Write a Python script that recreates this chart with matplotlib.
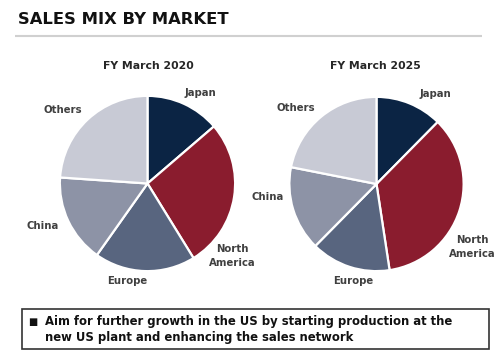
import matplotlib
matplotlib.use("Agg")
import matplotlib.pyplot as plt
from matplotlib.patches import Rectangle

# ---- data ----
markets = ["Japan", "North\nAmerica", "Europe", "China", "Others"]
share_2020 = [13.7, 27.5, 18.6, 16.3, 23.9]
share_2025 = [12.4, 35.2, 14.8, 15.7, 21.9]
titles = ["FY March 2020", "FY March 2025"]
colors = ["#0b2444", "#8a1c2e", "#58657f", "#8d93a6", "#c8cad5"]
main_title = "SALES MIX BY MARKET"
note_lines = ["Aim for further growth in the US by starting production at the",
              "new US plant and enhancing the sales network"]

W, H = 500, 354
fig = plt.figure(figsize=(W / 100, H / 100), dpi=100)
fig.patch.set_facecolor("white")

ov = fig.add_axes([0, 0, 1, 1])
ov.set_xlim(0, W)
ov.set_ylim(H, 0)
ov.axis("off")

# layout (pixel coords)
pies = [
    dict(cx=147.5, cy=183.5, r=88.5, values=share_2020, title=titles[0],
         title_xy=(148, 66),
         label_xy=[(200, 93), (232, 256), (127, 281), (43, 226), (63, 110)]),
    dict(cx=376.5, cy=184.0, r=88.0, values=share_2025, title=titles[1],
         title_xy=(375, 66),
         label_xy=[(435, 94), (472, 247), (353, 281), (268, 197), (296, 108)]),
]

label_color = "#404040"
for p in pies:
    ax = fig.add_axes([(p["cx"] - p["r"]) / W, (H - p["cy"] - p["r"]) / H,
                       2 * p["r"] / W, 2 * p["r"] / H])
    ax.pie(p["values"], colors=colors, startangle=90, counterclock=False,
           radius=1.0, wedgeprops=dict(edgecolor="white", linewidth=1.6))
    ax.set_xlim(-1.01, 1.01)
    ax.set_ylim(-1.01, 1.01)
    ax.axis("off")
    ov.text(p["title_xy"][0], p["title_xy"][1], p["title"], ha="center",
            va="center", fontsize=7.8, fontweight="bold", color="#262626")
    for lab, (x, y) in zip(markets, p["label_xy"]):
        ov.text(x, y, lab, ha="center", va="center", fontsize=7.3,
                fontweight="bold", color=label_color, linespacing=1.5)

# title and rule
ov.text(18, 20, main_title, ha="left", va="center", fontsize=11.8,
        fontweight="bold", color="#111111")
ov.plot([15, 482], [36, 36], color="#d0d0d0", lw=1.5, solid_capstyle="butt")

# note box
ov.add_patch(Rectangle((22, 309), 467, 40, facecolor="white",
                       edgecolor="#333333", lw=1.2))
ov.text(33, 322, "\u25A0", ha="center", va="center", fontsize=7,
        color="#111111")
ov.text(45, 322, note_lines[0], ha="left", va="center", fontsize=8.4,
        fontweight="bold", color="#111111")
ov.text(45, 337, note_lines[1], ha="left", va="center", fontsize=8.4,
        fontweight="bold", color="#111111")

fig.savefig("out.png", dpi=100, facecolor="white")
